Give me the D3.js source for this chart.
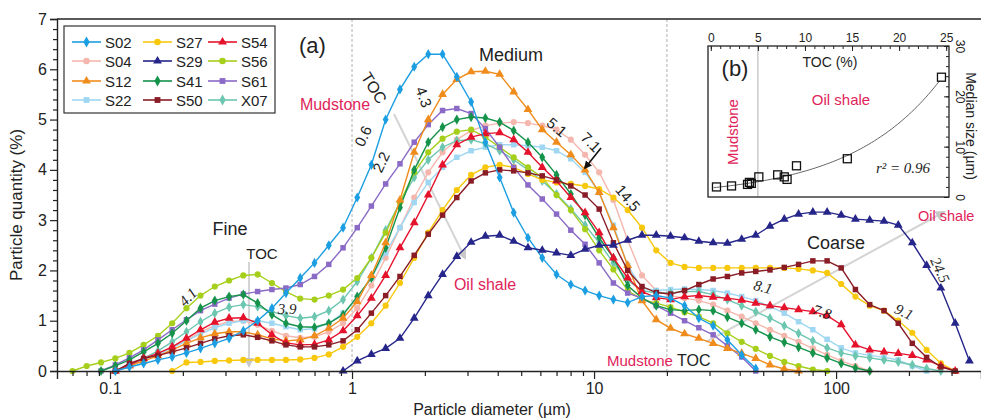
<!DOCTYPE html>
<html lang="en">
<head>
<meta charset="UTF-8">
<title>Particle size distribution</title>
<script src="https://cdn.jsdelivr.net/npm/d3@7"></script>
<style>
  * { margin: 0; padding: 0; }
  body { background: #fff; }
  svg { font-family: "Liberation Sans", Arial, sans-serif; display: block; }
  .tick text { fill: #222; }
  .serif { font-family: "Liberation Serif", "Times New Roman", serif; font-style: italic; }
</style>
</head>
<body>
<svg id="chart" width="981" height="419"></svg>
<script>
// particle diameter classes (um), shared by every sample
const diameters = [0.0700, 0.0801, 0.0918, 0.1052, 0.1203, 0.1377, 0.1578, 0.1807, 0.2070, 0.2366,
  0.2710, 0.3105, 0.3556, 0.4074, 0.4667, 0.5333, 0.6109, 0.6998, 0.8017, 0.9183,
  1.051, 1.202, 1.377, 1.578, 1.807, 2.065, 2.366, 2.710, 3.105, 3.556,
  4.074, 4.656, 5.333, 6.109, 6.998, 8.017, 9.183, 10.50, 12.02, 13.77,
  15.78, 18.07, 20.70, 23.66, 27.10, 31.05, 35.56, 40.74, 46.56, 53.33,
  61.09, 69.98, 80.17, 91.83, 105.0, 120.2, 137.7, 157.8, 180.7, 206.5,
  236.6, 271.0, 310.5, 355.6];

// particle quantity (%) per class, null = no particles in that class
const S02 = [null, null, null, 0, 0.08, 0.15, 0.22, 0.28, 0.36, 0.45, 0.55, 0.65, 0.8, 1.0, 1.25, 1.55, 1.85, 2.15, 2.5, 2.85,
  3.45, 4.1, 5.0, 5.6, 6.05, 6.3, 6.3, 5.85, 5.35, 4.55, 3.85, 3.15, 2.65, 2.25, 1.92, 1.72, 1.6, 1.5, 1.42, 1.36,
  1.48, 1.5, 1.45, 1.3, 1.05, 0.9, 0.62, 0.32, 0.05];
const S04 = [null, null, null, 0, 0.1, 0.22, 0.34, 0.47, 0.62, 0.78, 0.9, 0.98, 1.0, 0.92, 0.8, 0.7, 0.66, 0.68, 0.78, 0.95,
  1.25, 1.7, 2.25, 2.85, 3.45, 3.95, 4.35, 4.6, 4.78, 4.88, 4.93, 4.95, 4.93, 4.88, 4.8, 4.6, 4.3, 3.95, 3.4, 2.6,
  1.9, 1.6, 1.5, 1.45, 1.4, 1.32, 1.2, 1.08, 0.95, 0.82, 0.7, 0.58, 0.45, 0.32, 0.2, 0.1, 0];
const S12 = [null, null, null, 0, 0.1, 0.2, 0.3, 0.42, 0.55, 0.66, 0.74, 0.78, 0.78, 0.72, 0.64, 0.6, 0.62, 0.7, 0.85, 1.05,
  1.38, 1.9, 2.55, 3.4, 4.35, 5.0, 5.5, 5.8, 5.95, 5.96, 5.9, 5.55, 5.2, 4.8, 4.55, 4.3, 4.0, 3.55, 2.85, 2.1,
  1.4, 1.02, 0.85, 0.74, 0.65, 0.55, 0.45, 0.35, 0.25, 0.12, 0.04, 0];
const S22 = [null, null, null, 0, 0.12, 0.22, 0.33, 0.46, 0.6, 0.74, 0.86, 0.95, 1.0, 1.0, 0.95, 0.88, 0.82, 0.84, 0.95, 1.15,
  1.45, 1.85, 2.35, 2.85, 3.35, 3.75, 4.05, 4.25, 4.38, 4.45, 4.5, 4.5, 4.48, 4.45, 4.38, 4.22, 3.95, 3.55, 2.9, 2.1,
  1.65, 1.6, 1.62, 1.63, 1.62, 1.6, 1.55, 1.48, 1.4, 1.28, 1.15, 0.98, 0.82, 0.63, 0.46, 0.36, 0.31, 0.27, 0.22, 0.1, 0];
const S27 = [null, null, null, null, null, null, null, 0, 0.17, 0.18, 0.2, 0.21, 0.22, 0.22, 0.22, 0.22, 0.23, 0.26, 0.33, 0.48,
  0.68, 0.95, 1.3, 1.75, 2.25, 2.75, 3.2, 3.6, 3.9, 4.05, 4.1, 4.05, 3.92, 3.8, 3.75, 3.72, 3.68, 3.62, 3.45, 3.2,
  2.85, 2.4, 2.15, 2.07, 2.05, 2.05, 2.05, 2.05, 2.05, 2.05, 2.05, 2.03, 2.0, 1.95, 1.73, 1.48, 1.3, 1.2, 1.0, 0.76,
  0.42, 0.15, 0];
const S29 = [null, null, null, null, null, null, null, null, null, null, null, null, null, null, null, null, null, null, null, 0,
  0.2, 0.33, 0.45, 0.65, 1.05, 1.5, 1.92, 2.28, 2.56, 2.68, 2.7, 2.58, 2.45, 2.4, 2.35, 2.3, 2.42, 2.5, 2.5, 2.6,
  2.7, 2.7, 2.68, 2.65, 2.58, 2.55, 2.54, 2.62, 2.7, 2.88, 3.02, 3.12, 3.16, 3.16, 3.1, 3.02, 3.0, 2.98, 2.9, 2.55,
  2.1, 1.65, 0.95, 0.2];
const S41 = [null, null, 0, 0.1, 0.22, 0.38, 0.55, 0.75, 1.0, 1.25, 1.4, 1.48, 1.52, 1.35, 1.12, 0.95, 0.88, 0.87, 0.95, 1.12,
  1.48, 1.85, 2.45, 3.25, 4.0, 4.55, 4.85, 5.0, 5.05, 5.03, 4.95, 4.78, 4.55, 4.25, 3.9, 3.52, 3.1, 2.65, 2.25, 1.7,
  1.45, 1.3, 1.22, 1.2, 1.22, 1.2, 1.07, 0.95, 0.82, 0.68, 0.57, 0.47, 0.36, 0.26, 0.15, 0.06, 0];
const S50 = [null, null, null, 0, 0.15, 0.25, 0.31, 0.38, 0.46, 0.55, 0.64, 0.7, 0.72, 0.67, 0.6, 0.52, 0.48, 0.48, 0.52, 0.6,
  0.82, 1.15, 1.5, 1.88, 2.3, 2.72, 3.1, 3.45, 3.78, 3.94, 4.0, 3.98, 3.94, 3.88, 3.8, 3.68, 3.5, 3.22, 2.55, 2.0,
  1.68, 1.56, 1.53, 1.6, 1.72, 1.83, 1.88, 1.95, 1.98, 2.01, 2.06, 2.12, 2.19, 2.19, 2.05, 1.62, 1.32, 1.2, 0.95, 0.55,
  0.27, 0.08, 0];
const S54 = [null, null, null, 0, 0.12, 0.25, 0.35, 0.48, 0.65, 0.82, 0.97, 1.05, 1.06, 0.95, 0.72, 0.56, 0.52, 0.53, 0.62, 0.8,
  1.1, 1.45, 1.9, 2.45, 2.95, 3.5, 4.1, 4.5, 4.65, 4.72, 4.74, 4.6, 4.35, 4.05, 3.78, 3.45, 3.15, 2.75, 2.25, 1.85,
  1.58, 1.46, 1.42, 1.48, 1.5, 1.47, 1.45, 1.41, 1.35, 1.3, 1.26, 1.22, 1.18, 1.1, 0.92, 0.52, 0.42, 0.38, 0.35, 0.31,
  0.22, 0.1, 0];
const S56 = [0, 0.1, 0.17, 0.25, 0.36, 0.52, 0.7, 0.95, 1.25, 1.5, 1.68, 1.8, 1.9, 1.92, 1.75, 1.58, 1.44, 1.42, 1.5, 1.62,
  1.85, 2.25, 2.75, 3.35, 3.95, 4.35, 4.62, 4.76, 4.8, 4.65, 4.45, 4.25, 4.05, 3.85, 3.5, 3.2, 2.82, 2.4, 2.02, 1.6,
  1.42, 1.35, 1.27, 1.17, 1.08, 0.95, 0.75, 0.58, 0.44, 0.3, 0.18, 0.1, 0.03, 0];
const S61 = [null, null, 0, 0.12, 0.26, 0.42, 0.62, 0.82, 1.02, 1.2, 1.33, 1.45, 1.53, 1.58, 1.62, 1.65, 1.72, 1.88, 2.12, 2.45,
  2.85, 3.28, 3.72, 4.12, 4.55, 4.9, 5.18, 5.22, 5.12, 4.82, 4.45, 4.05, 3.7, 3.42, 3.12, 2.8, 2.52, 2.15, 1.75, 1.55,
  1.45, 1.3, 1.15, 1.0, 0.86, 0.72, 0.5, 0.28, 0];
const X07 = [null, null, null, 0, 0.12, 0.25, 0.4, 0.58, 0.78, 0.98, 1.15, 1.27, 1.32, 1.28, 1.18, 1.1, 1.05, 1.08, 1.2, 1.42,
  1.78, 2.25, 2.8, 3.35, 3.85, 4.2, 4.45, 4.58, 4.6, 4.52, 4.38, 4.2, 4.0, 3.78, 3.52, 3.22, 2.9, 2.55, 2.15, 1.8,
  1.6, 1.55, 1.55, 1.58, 1.58, 1.52, 1.42, 1.3, 1.18, 1.05, 0.9, 0.75, 0.6, 0.46, 0.36, 0.3, 0.26, 0.22, 0.18, 0.12,
  0.05, 0];

// legend layout: three columns of sample names
const legendColumns = [['S02', 'S04', 'S12', 'S22'], ['S27', 'S29', 'S41', 'S50'], ['S54', 'S56', 'S61', 'X07']];

// tick values
const xMajorTicks = [0.1, 1, 10, 100];
const yMajorTicks = [0, 1, 2, 3, 4, 5, 6, 7];

// inset (b): TOC vs median grain size
const tocValues = [0.6, 2.2, 3.9, 4.1, 4.3, 5.1, 7.1, 7.8, 8.1, 9.1, 14.5, 24.5];
const medianSizes = [2.0, 2.2, 2.5, 2.9, 2.7, 4.0, 4.4, 4.0, 3.5, 6.2, 7.6, 23.8];
const tocTicks = [0, 5, 10, 15, 20, 25];
const medianTicks = [0, 10, 20, 30];
const fitA = 1.8, fitB = 0.105; // exponential fit, r2 = 0.96

const seriesData = { S02, S04, S12, S22, S27, S29, S41, S50, S54, S56, S61, X07 };
const styles = {
  S02: { color: '#1c9ee2', shape: d3.symbolDiamond },
  S04: { color: '#f5b7ad', shape: d3.symbolCircle },
  S12: { color: '#f08c1c', shape: d3.symbolTriangle },
  S22: { color: '#9fd7f3', shape: d3.symbolSquare },
  S27: { color: '#f8c80c', shape: d3.symbolCircle },
  S29: { color: '#25258a', shape: d3.symbolTriangle },
  S41: { color: '#16934a', shape: d3.symbolDiamond },
  S50: { color: '#8a1c26', shape: d3.symbolSquare },
  S54: { color: '#e5122c', shape: d3.symbolTriangle },
  S56: { color: '#a6cf1c', shape: d3.symbolCircle },
  S61: { color: '#8a6ac6', shape: d3.symbolSquare },
  X07: { color: '#6cc6b0', shape: d3.symbolDiamond }
};
const drawOrder = ['S04', 'S22', 'X07', 'S56', 'S27', 'S61', 'S41', 'S12', 'S54', 'S50', 'S02', 'S29'];

const svg = d3.select('#chart');
const red = '#e0245a';

const defs = svg.append('defs');
defs.append('marker')
  .attr('id', 'head').attr('viewBox', '0 0 10 10').attr('refX', 8).attr('refY', 5)
  .attr('markerWidth', 5).attr('markerHeight', 5).attr('orient', 'auto')
  .append('path').attr('d', 'M0,0L10,5L0,10z').attr('fill', '#111');
defs.append('marker')
  .attr('id', 'headGray').attr('viewBox', '0 0 10 10').attr('refX', 8).attr('refY', 5)
  .attr('markerWidth', 5).attr('markerHeight', 5).attr('orient', 'auto')
  .append('path').attr('d', 'M0,0L10,5L0,10z').attr('fill', '#c8c8c8');

const plotLeft = 57, plotTop = 19, plotBottom = 371, plotRight = 981;
const x = d3.scaleLog().domain([0.0604, 397]).range([plotLeft, plotRight]);
const y = d3.scaleLinear().domain([0, 7]).range([plotBottom, plotTop]);

// region dividers at 1 um and 20 um
svg.selectAll('.divider')
  .data([1, 20])
  .join('line')
  .attr('x1', d => x(d)).attr('x2', d => x(d))
  .attr('y1', plotTop).attr('y2', plotBottom)
  .attr('stroke', '#b0b0b0').attr('stroke-width', 1).attr('stroke-dasharray', '3,2');

// gray TOC arrows
const grayArrows = [[249, 262, 249, 366], [394, 114, 465, 258], [706, 342, 944, 212]];
svg.selectAll('.garrow')
  .data(grayArrows)
  .join('line')
  .attr('x1', d => d[0]).attr('y1', d => d[1]).attr('x2', d => d[2]).attr('y2', d => d[3])
  .attr('stroke', '#d4d4d4').attr('stroke-width', 2).attr('marker-end', 'url(#headGray)');

// series
const line = d3.line().x(p => x(p.d)).y(p => y(p.v));
const plot = svg.append('g');
drawOrder.forEach(name => {
  const pts = seriesData[name]
    .map((v, i) => (v == null ? null : { d: diameters[i], v }))
    .filter(p => p);
  const st = styles[name];
  plot.append('path')
    .datum(pts)
    .attr('d', line)
    .attr('fill', 'none')
    .attr('stroke', st.color)
    .attr('stroke-width', 1.4);
  plot.append('g')
    .selectAll('path')
    .data(pts)
    .join('path')
    .attr('transform', p => `translate(${x(p.d)},${y(p.v)})`)
    .attr('d', d3.symbol().type(st.shape).size(st.shape === d3.symbolTriangle ? 34 : 30))
    .attr('fill', st.color);
});

// axes
const yAxis = svg.append('g').attr('transform', `translate(${plotLeft},0)`)
  .call(d3.axisLeft(y).tickValues(yMajorTicks).tickSize(7).tickPadding(3).tickFormat(d3.format('d')));
svg.append('g').attr('transform', `translate(${plotLeft},0)`)
  .call(d3.axisLeft(y).tickValues(d3.range(0, 7.01, 0.2).filter(v => Math.abs(v - Math.round(v)) > 0.01))
    .tickSize(4).tickFormat(''))
  .select('.domain').remove();

const xMinor = [];
[0.01, 0.1, 1, 10, 100].forEach(base => {
  for (let k = 2; k <= 9; k++) {
    const v = base * k;
    if (v > 0.0604 && v < 397) xMinor.push(v);
  }
});
const xAxis = svg.append('g').attr('transform', `translate(0,${plotBottom})`)
  .call(d3.axisBottom(x).tickValues(xMajorTicks).tickSize(8).tickPadding(4).tickFormat(d => String(d)));
svg.append('g').attr('transform', `translate(0,${plotBottom})`)
  .call(d3.axisBottom(x).tickValues(xMinor).tickSize(5).tickFormat(''))
  .select('.domain').remove();

[yAxis, xAxis].forEach(a => {
  a.selectAll('text').attr('font-size', 16);
  a.select('.domain').attr('stroke', '#222').attr('stroke-width', 1.4);
});
svg.selectAll('.tick line').attr('stroke', '#222').attr('stroke-width', 1.2);

// top frame
svg.append('line').attr('x1', plotLeft).attr('x2', plotRight).attr('y1', plotTop).attr('y2', plotTop)
  .attr('stroke', '#222').attr('stroke-width', 1.4);

svg.append('text')
  .attr('transform', 'translate(22,205) rotate(-90)')
  .attr('text-anchor', 'middle').attr('font-size', 17).attr('fill', '#222')
  .text('Particle quantity (%)');
svg.append('text')
  .attr('x', 492).attr('y', 415)
  .attr('text-anchor', 'middle').attr('font-size', 16).attr('fill', '#222')
  .text('Particle diameter (\u00b5m)');

// annotations
function note(txt, cx, cy, opts = {}) {
  const t = svg.append('text')
    .attr('transform', `translate(${cx},${cy}) rotate(${opts.angle || 0})`)
    .attr('text-anchor', opts.anchor || 'middle')
    .attr('dominant-baseline', 'central')
    .attr('font-size', opts.size || 15)
    .attr('fill', opts.color || '#222')
    .text(txt);
  if (opts.serif) t.attr('class', 'serif');
  return t;
}
note('(a)', 299, 45, { anchor: 'start', size: 22 });
note('Medium', 511, 55, { size: 18 });
note('TOC', 374, 88, { angle: 58, size: 16 });
note('Mudstone', 335, 104, { size: 16, color: red });
note('0.6', 363, 136, { angle: -65, size: 15 });
note('2.2', 381, 162, { angle: -65, size: 15 });
note('4.3', 424, 97, { angle: 70, size: 15 });
note('5.1', 557, 127, { angle: 40, size: 15 });
note('7.1', 591, 142, { angle: 45, size: 15 });
note('14.5', 628, 198, { angle: 50, size: 15 });
note('Fine', 230, 229, { size: 18 });
note('TOC', 262, 253, { size: 15 });
note('4.1', 188, 297, { angle: -45, size: 15, serif: true });
note('3.9', 287, 309, { size: 15, serif: true });
note('Oil shale', 485, 284, { size: 16, color: red });
note('Coarse', 836, 243, { size: 18 });
note('8.1', 763, 287, { angle: 15, size: 15, serif: true });
note('7.8', 822, 312, { angle: 20, size: 15, serif: true });
note('9.1', 904, 312, { angle: 25, size: 15, serif: true });
note('24.5', 940, 270, { angle: 65, size: 15, serif: true });
note('Oil shale', 918, 216, { anchor: 'start', size: 14.5, color: red });
note('Mudstone', 607, 360, { anchor: 'start', size: 15, color: red });
note('TOC', 677, 360, { anchor: 'start', size: 16 });

svg.append('line').attr('x1', 601).attr('y1', 148).attr('x2', 585).attr('y2', 168)
  .attr('stroke', '#111').attr('stroke-width', 1.6).attr('marker-end', 'url(#head)');

// legend
const legend = svg.append('g');
legend.append('rect').attr('x', 64).attr('y', 26).attr('width', 211).attr('height', 87)
  .attr('fill', '#fff').attr('stroke', '#333').attr('stroke-width', 1.2);
const colX = [72, 143, 208];
const rowY = [42, 61, 81, 100];
legendColumns.forEach((col, ci) => {
  col.forEach((name, ri) => {
    const st = styles[name];
    const gx = colX[ci], gy = rowY[ri];
    legend.append('line').attr('x1', gx).attr('x2', gx + 29).attr('y1', gy).attr('y2', gy)
      .attr('stroke', st.color).attr('stroke-width', 1.6);
    legend.append('path').attr('transform', `translate(${gx + 14.5},${gy})`)
      .attr('d', d3.symbol().type(st.shape).size(34)).attr('fill', st.color);
    legend.append('text').attr('x', gx + 33).attr('y', gy).attr('dominant-baseline', 'central')
      .attr('font-size', 15).attr('fill', '#222').text(name);
  });
});

// inset (b)
const ix0 = 708, ix1 = 949, iy0 = 46, iy1 = 197;
const bx = d3.scaleLinear().domain([-0.3, 25.3]).range([ix0, ix1]);
const by = d3.scaleLinear().domain([0, 30]).range([iy1, iy0]);
const inset = svg.append('g');
inset.append('rect').attr('x', ix0).attr('y', iy0).attr('width', ix1 - ix0).attr('height', iy1 - iy0)
  .attr('fill', '#fff');
inset.append('line').attr('x1', bx(5)).attr('x2', bx(5)).attr('y1', iy0).attr('y2', iy1)
  .attr('stroke', '#bdbdbd').attr('stroke-width', 1.2);

const topAx = inset.append('g').attr('transform', `translate(0,${iy0})`)
  .call(d3.axisTop(bx).tickValues(tocTicks).tickSize(-5).tickPadding(4));
inset.append('g').attr('transform', `translate(0,${iy0})`)
  .call(d3.axisTop(bx).tickValues(d3.range(0, 26, 1)).tickSize(-3).tickFormat(''))
  .select('.domain').remove();
topAx.selectAll('text').attr('font-size', 12);
topAx.select('.domain').remove();

const rightAx = inset.append('g').attr('transform', `translate(${ix1},0)`)
  .call(d3.axisRight(by).tickValues(medianTicks).tickSize(-5));
inset.append('g').attr('transform', `translate(${ix1},0)`)
  .call(d3.axisRight(by).tickValues(d3.range(0, 31, 2)).tickSize(-3).tickFormat(''))
  .select('.domain').remove();
rightAx.select('.domain').remove();
rightAx.selectAll('text')
  .attr('x', null).attr('dy', null)
  .attr('transform', 'translate(7,0) rotate(90)')
  .attr('text-anchor', 'middle')
  .attr('font-size', 12);
inset.selectAll('.tick line').attr('stroke', '#222');

inset.append('rect').attr('x', ix0).attr('y', iy0).attr('width', ix1 - ix0).attr('height', iy1 - iy0)
  .attr('fill', 'none').attr('stroke', '#222').attr('stroke-width', 1.3);

const fitPts = d3.range(0.3, 24.6, 0.3).map(t => ({ t, m: fitA * Math.exp(fitB * t) }));
inset.append('path').datum(fitPts)
  .attr('d', d3.line().x(p => bx(p.t)).y(p => by(p.m)))
  .attr('fill', 'none').attr('stroke', '#666').attr('stroke-width', 1);

inset.selectAll('.pt')
  .data(tocValues.map((t, i) => ({ t, m: medianSizes[i] })))
  .join('rect')
  .attr('x', p => bx(p.t) - 4).attr('y', p => by(p.m) - 4)
  .attr('width', 8).attr('height', 8)
  .attr('fill', 'none').attr('stroke', '#111').attr('stroke-width', 1.3);

note('TOC (%)', 830, 62, { size: 14 });
note('(b)', 735, 68, { size: 22 });
note('Oil shale', 841, 99, { size: 15, color: red });
note('Mudstone', 732, 132, { angle: -90, size: 15, color: red });
note('r\u00b2 = 0.96', 903, 168, { size: 15, serif: true });
note('Median size (\u00b5m)', 971, 126, { angle: 90, size: 14 });
</script>
</body>
</html>
